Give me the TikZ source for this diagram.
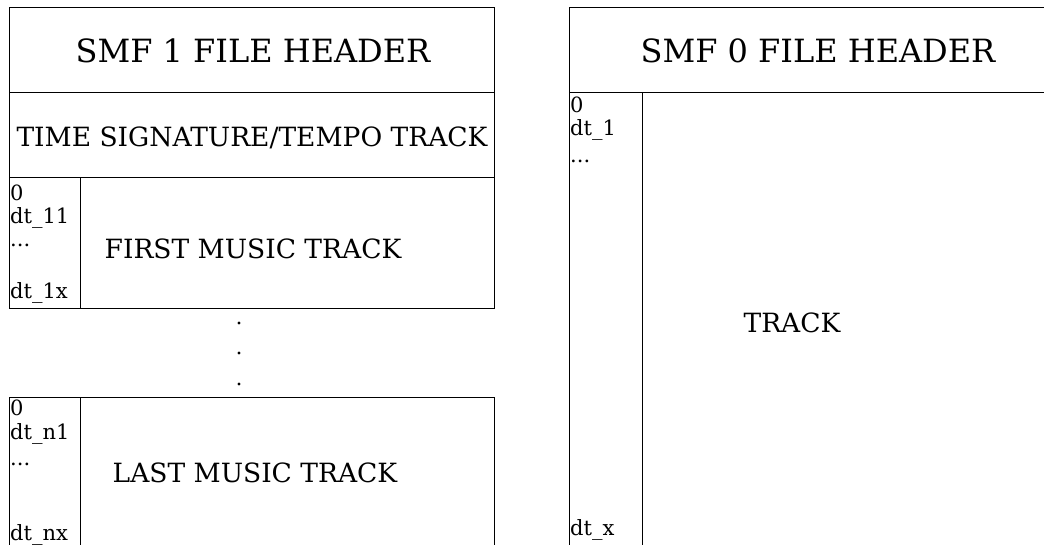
\documentclass[tikz,border=0pt]{standalone}
\usepackage{fontspec}
\setmainfont{DejaVu Serif}
\begin{document}
\begin{tikzpicture}[x=1pt,y=-1pt,
  box/.style={draw,line width=1pt,inner sep=0pt,anchor=north west},
  big/.style={font=\fontsize{32}{36}\selectfont,anchor=base,inner sep=0pt},
  mid/.style={font=\fontsize{26.5}{30}\selectfont,anchor=base,inner sep=0pt},
  small/.style={font=\fontsize{21}{24}\selectfont,anchor=base west,inner sep=0pt}]
\useasboundingbox (0,0) rectangle (1044,544);
\clip (0,0) rectangle (1044,544);
% left column boxes
\node[box,minimum width=485pt,minimum height=85pt] (h1) at (9,7) {};
\node[box,minimum width=485pt,minimum height=85pt] (ts) at (9,92) {};
\node[box,minimum width=485pt,minimum height=131pt] (ft) at (9,177) {};
\node[box,minimum width=71pt,minimum height=131pt] (fc) at (9,177) {};
\node[box,minimum width=485pt,minimum height=152pt] (lt) at (9,397) {};
\node[box,minimum width=71pt,minimum height=152pt] (lc) at (9,397) {};
% right column boxes
\node[box,minimum width=500pt,minimum height=85pt] (h0) at (569,7) {};
\node[box,minimum width=500pt,minimum height=470pt] (tr) at (569,92) {};
\node[box,minimum width=73pt,minimum height=470pt] (tc) at (569,92) {};
% texts
\node[big] (t1) at (253,62) {SMF 1 FILE HEADER};
\node[mid] (t2) at (252,146) {TIME SIGNATURE/TEMPO TRACK};
\node[mid] (t3) at (253,258) {FIRST MUSIC TRACK};
\node[mid] (t4) at (255,482) {LAST MUSIC TRACK};
\node[big] (t5) at (818,62) {SMF 0 FILE HEADER};
\node[mid] (t6) at (792,332) {TRACK};
% small labels
\node[small] (a1) at (10,200) {0};
\node[small] (a2) at (10,223) {dt\_11};
\node[small] (a3) at (10,246) {...};
\node[small] (a4) at (10,298) {dt\_1x};
\node[small] (b1) at (10,415) {0};
\node[small] (b2) at (10,439) {dt\_n1};
\node[small] (b3) at (10,465) {...};
\node[small] (b4) at (10,540) {dt\_nx};
\node[small] (c1) at (570,112) {0};
\node[small] (c2) at (570,135) {dt\_1};
\node[small] (c3) at (570,162) {...};
\node[small] (c4) at (570,535) {dt\_x};
% dots
\foreach \y/\n in {323/d1,353/d2,384/d3}
  \fill (239,\y) circle (1.7pt) coordinate (\n);
\end{tikzpicture}
\end{document}
